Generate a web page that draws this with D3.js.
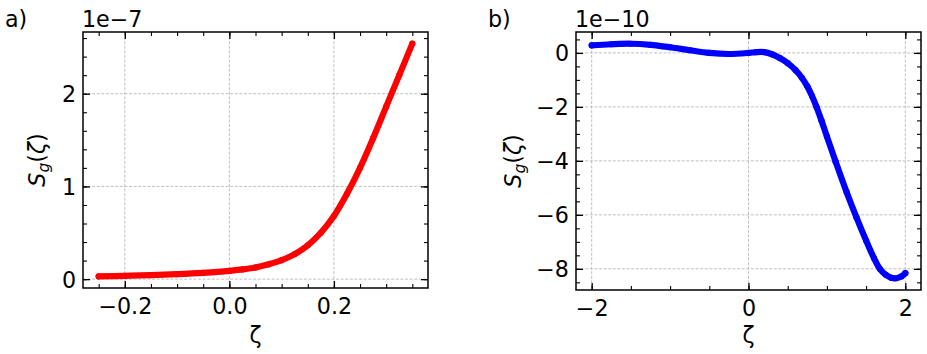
<!DOCTYPE html>
<html>
<head>
<meta charset="utf-8">
<script src="https://cdn.jsdelivr.net/npm/d3@7/dist/d3.min.js"></script>
<style>
  html, body { margin: 0; padding: 0; background: #fff; }
  svg { display: block; }
  text { font-family: "DejaVu Sans", sans-serif; fill: #000; }
</style>
</head>
<body>
<svg id="chart" width="927" height="354"></svg>
<script>
// ---------------- data ----------------
// panel a) : zeta and S_g(zeta) in units of 1e-7
const zetaA = [-0.25, -0.2, -0.15, -0.1, -0.05, 0.0, 0.025, 0.05, 0.075, 0.1, 0.125, 0.15, 0.175, 0.2, 0.225, 0.25, 0.275, 0.3, 0.325, 0.35];
const sgA   = [0.030, 0.036, 0.044, 0.054, 0.068, 0.089, 0.105, 0.126, 0.160, 0.205, 0.270, 0.365, 0.500, 0.680, 0.920, 1.20, 1.52, 1.86, 2.20, 2.54];
// panel b) : zeta and S_g(zeta) in units of 1e-10
const zetaB = [-2.0, -1.75, -1.5, -1.25, -1.0, -0.75, -0.5, -0.25, 0.0, 0.1, 0.2, 0.3, 0.4, 0.5, 0.6, 0.68, 0.75, 0.81, 0.867, 0.93, 1.0, 1.11, 1.25, 1.378, 1.5, 1.6, 1.675, 1.75, 1.82, 1.88, 1.95, 2.0];
const sgB   = [0.28, 0.32, 0.34, 0.30, 0.21, 0.10, 0.00, -0.04, 0.00, 0.03, 0.03, -0.05, -0.19, -0.38, -0.64, -0.92, -1.24, -1.60, -2.0, -2.5, -3.1, -4.02, -5.15, -6.1, -6.95, -7.6, -8.0, -8.22, -8.33, -8.35, -8.28, -8.16];

// ticks
const xTicksA = [-0.2, 0.0, 0.2];
const yTicksA = [0, 1, 2];
const xTicksB = [-2, 0, 2];
const yTicksB = [-8, -6, -4, -2, 0];
const offsetA = "1e\u22127";
const offsetB = "1e\u221210";
const panelA = "a)";
const panelB = "b)";

// ---------------- drawing ----------------
const svg = d3.select("#chart");
const FS = 22.2;

function extentWithMargin(arr) {
  const [lo, hi] = d3.extent(arr);
  const m = (hi - lo) * 0.05;
  return [lo - m, hi + m];
}

function drawPanel(cfg) {
  const { box, xs, ys, xTicks, yTicks, xMinorStep, yMinorStep, xFmt, yFmt, color, offset, tag, tagX, ylabelX } = cfg;
  const g = svg.append("g");
  const x = d3.scaleLinear().domain(extentWithMargin(xs)).range([box.x0, box.x1]);
  const y = d3.scaleLinear().domain(extentWithMargin(ys)).range([box.y1, box.y0]);

  // grid
  const grid = g.append("g").attr("stroke", "#b0b0b0").attr("stroke-width", 0.8).attr("stroke-dasharray", "3,1.6");
  grid.selectAll("line.gx").data(xTicks).join("line")
    .attr("x1", d => x(d)).attr("x2", d => x(d)).attr("y1", box.y0).attr("y2", box.y1);
  grid.selectAll("line.gy").data(yTicks).join("line")
    .attr("class", "gy")
    .attr("x1", box.x0).attr("x2", box.x1).attr("y1", d => y(d)).attr("y2", d => y(d));

  // data
  const pts = xs.map((v, i) => [v, ys[i]]);
  const line = d3.line().x(d => x(d[0])).y(d => y(d[1])).curve(d3.curveCatmullRom.alpha(0.5));
  g.append("path").datum(pts).attr("d", line)
    .attr("fill", "none").attr("stroke", color).attr("stroke-width", 6.2)
    .attr("stroke-linejoin", "round").attr("stroke-linecap", "round");
  g.selectAll("circle.pt").data(pts).join("circle")
    .attr("class", "pt").attr("cx", d => x(d[0])).attr("cy", d => y(d[1])).attr("r", 3.1).attr("fill", color);

  // minor tick values
  const [xd0, xd1] = x.domain(), [yd0, yd1] = y.domain();
  const xMinor = d3.range(Math.ceil(xd0 / xMinorStep - 1e-9), Math.floor(xd1 / xMinorStep + 1e-9) + 1).map(k => +(k * xMinorStep).toFixed(6));
  const yMinor = d3.range(Math.ceil(yd0 / yMinorStep - 1e-9), Math.floor(yd1 / yMinorStep + 1e-9) + 1).map(k => +(k * yMinorStep).toFixed(6));

  function styleAxis(sel) {
    sel.select(".domain").remove();
    sel.selectAll(".tick line").attr("stroke", "#000").attr("stroke-width", 1.3);
  }
  // major ticks + labels
  const bottom = g.append("g").attr("transform", `translate(0,${box.y1})`)
    .call(d3.axisBottom(x).tickValues(xTicks).tickFormat(xFmt).tickSize(-7).tickPadding(10));
  const left = g.append("g").attr("transform", `translate(${box.x0},0)`)
    .call(d3.axisLeft(y).tickValues(yTicks).tickFormat(yFmt).tickSize(-7).tickPadding(7));
  const top = g.append("g").attr("transform", `translate(0,${box.y0})`)
    .call(d3.axisTop(x).tickValues(xTicks).tickFormat("").tickSize(-7));
  const right = g.append("g").attr("transform", `translate(${box.x1},0)`)
    .call(d3.axisRight(y).tickValues(yTicks).tickFormat("").tickSize(-7));
  // minor ticks
  const bm = g.append("g").attr("transform", `translate(0,${box.y1})`)
    .call(d3.axisBottom(x).tickValues(xMinor).tickFormat("").tickSize(-4));
  const tm = g.append("g").attr("transform", `translate(0,${box.y0})`)
    .call(d3.axisTop(x).tickValues(xMinor).tickFormat("").tickSize(-4));
  const lm = g.append("g").attr("transform", `translate(${box.x0},0)`)
    .call(d3.axisLeft(y).tickValues(yMinor).tickFormat("").tickSize(-4));
  const rm = g.append("g").attr("transform", `translate(${box.x1},0)`)
    .call(d3.axisRight(y).tickValues(yMinor).tickFormat("").tickSize(-4));
  [bottom, left, top, right, bm, tm, lm, rm].forEach(styleAxis);
  [bm, tm, lm, rm].forEach(s => s.selectAll(".tick line").attr("stroke-width", 1.1));
  [bottom, left].forEach(s => s.selectAll(".tick text")
    .attr("font-family", "DejaVu Sans").attr("font-size", FS).attr("fill", "#000"));
  left.selectAll(".tick text").attr("dy", "0.36em");

  // frame
  g.append("rect").attr("x", box.x0).attr("y", box.y0)
    .attr("width", box.x1 - box.x0).attr("height", box.y1 - box.y0)
    .attr("fill", "none").attr("stroke", "#000").attr("stroke-width", 1.5);

  // offset text
  g.append("text").attr("x", box.x0 - 1).attr("y", 27).attr("font-size", FS).text(offset);
  // panel tag
  g.append("text").attr("x", tagX).attr("y", 27).attr("font-size", FS).text(tag);

  // x label
  g.append("text").attr("x", (box.x0 + box.x1) / 2).attr("y", 343)
    .attr("text-anchor", "middle").attr("font-size", FS).text("\u03B6");

  // y label  S_g(ζ)
  const cy = (box.y0 + box.y1) / 2;
  const yl = g.append("text").attr("transform", `translate(${ylabelX},${cy}) rotate(-90)`)
    .attr("text-anchor", "middle").attr("font-size", FS);
  yl.append("tspan").attr("font-style", "italic").text("S");
  yl.append("tspan").attr("font-style", "italic").attr("font-size", FS * 0.7).attr("dy", 4).text("g");
  yl.append("tspan").attr("dy", -4).text("(");
  yl.append("tspan").attr("font-style", "italic").text("\u03B6");
  yl.append("tspan").text(")");
}

drawPanel({
  box: { x0: 83, x1: 428, y0: 32, y1: 288 },
  xs: zetaA, ys: sgA, xTicks: xTicksA, yTicks: yTicksA,
  xMinorStep: 0.05, yMinorStep: 0.2,
  xFmt: d3.format(".1f"), yFmt: d3.format("d"),
  color: "#ff0000", offset: offsetA, tag: panelA, tagX: 5, ylabelX: 45
});
drawPanel({
  box: { x0: 576, x1: 921, y0: 32, y1: 290 },
  xs: zetaB, ys: sgB, xTicks: xTicksB, yTicks: yTicksB,
  xMinorStep: 0.5, yMinorStep: 0.5,
  xFmt: d3.format("d"), yFmt: d3.format("d"),
  color: "#0000ff", offset: offsetB, tag: panelB, tagX: 488, ylabelX: 521
});
</script>
</body>
</html>
